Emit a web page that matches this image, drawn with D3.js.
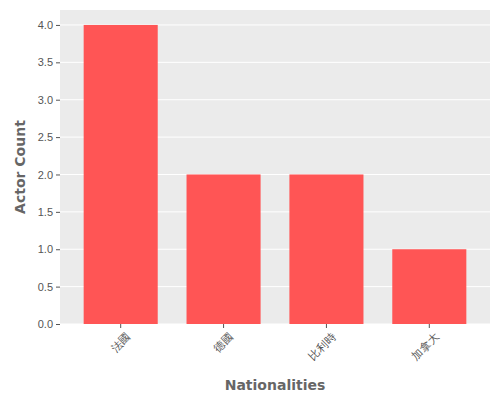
<!DOCTYPE html>
<html><head><meta charset="utf-8">
<script src="https://cdn.jsdelivr.net/npm/d3@7"></script>
<style>body{margin:0;background:#fff;}</style>
</head><body>
<script>
var nationalities = ["法國", "德國", "比利時", "加拿大"];
var counts = [4, 2, 2, 1];
var yTicks = [0, 0.5, 1, 1.5, 2, 2.5, 3, 3.5, 4];

var margin = {top: 10, right: 10, bottom: 76, left: 60};
var width = 500 - margin.left - margin.right;
var height = 400 - margin.top - margin.bottom;

var svg = d3.select("body").append("svg")
	.attr("width", 500).attr("height", 400)
	.style("font-family", "'DejaVu Sans', 'Noto Sans CJK TC', sans-serif");
var g = svg.append("g").attr("transform", "translate(" + margin.left + "," + margin.top + ")");

var x = d3.scaleBand().domain(nationalities).range([0, width]).paddingInner(0.28).paddingOuter(0.23);
var y = d3.scaleLinear().domain([0, 4.2]).range([height, 0]);

g.append("rect").attr("width", width).attr("height", height).attr("fill", "#ebebeb");

g.selectAll(".grid").data(yTicks).enter().append("line")
	.attr("x1", 0).attr("x2", width)
	.attr("y1", d => y(d)).attr("y2", d => y(d))
	.attr("stroke", "#fff").attr("stroke-width", 1);

g.selectAll(".bar").data(counts).enter().append("rect")
	.attr("x", (d, i) => x(nationalities[i]))
	.attr("y", d => y(d))
	.attr("width", x.bandwidth())
	.attr("height", d => height - y(d))
	.attr("fill", "#ff5555");

var yAxis = g.append("g").call(d3.axisLeft(y).tickValues(yTicks).tickFormat(d3.format(".1f")).tickSize(4));
yAxis.select(".domain").remove();
yAxis.selectAll("line").attr("stroke", "#555");
yAxis.selectAll("text").attr("fill", "#555").attr("font-size", "11px");

var xAxis = g.append("g").attr("transform", "translate(0," + height + ")")
	.call(d3.axisBottom(x).tickSize(4));
xAxis.select(".domain").remove();
xAxis.selectAll("line").attr("stroke", "#555");
xAxis.selectAll("text").attr("fill", "#555").attr("font-size", "11px")
	.attr("text-anchor", "end").attr("dx", "-0.2em").attr("dy", "0.9em")
	.attr("transform", "rotate(-45)");

svg.append("text").attr("x", margin.left + width / 2).attr("y", 390)
	.attr("text-anchor", "middle").attr("font-size", "14px").attr("font-weight", "bold")
	.attr("fill", "#666").text("Nationalities");
svg.append("text").attr("transform", "rotate(-90)").attr("x", -(margin.top + height / 2)).attr("y", 25)
	.attr("text-anchor", "middle").attr("font-size", "14px").attr("font-weight", "bold")
	.attr("fill", "#666").text("Actor Count");
</script>
</body></html>
